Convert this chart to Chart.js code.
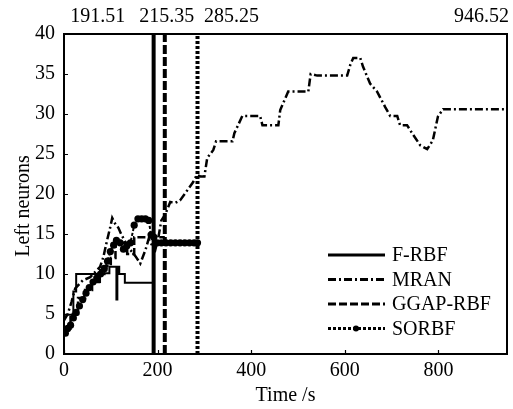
<!DOCTYPE html>
<html lang="en">
<head>
<meta charset="UTF-8">
<title>Left neurons</title>
<script src="https://cdn.jsdelivr.net/npm/chart.js@4"></script>
<style>
  body { margin: 0; background: #fff; }
  canvas { display: block; }
</style>
</head>
<body>
<canvas id="Chart" width="513" height="409"></canvas>
<script>
// neurons left in the network over time, [time (s), neurons]
const fRbf = [
  [0, 4.9], [20, 4.9], [20, 7.8], [26, 7.8], [26, 10], [70, 10], [70, 9], [77, 9],
  [77, 10.5], [86, 10.5], [86, 10.1], [97, 10.1], [97, 10.9], [112, 10.9], [112, 6.8],
  [114, 6.8], [114, 10.9], [118, 10.9], [118, 10], [130, 10], [130, 8.9], [191.51, 8.9]
];
const mran = [
  [0, 4.2], [8, 5], [16, 6.5], [24, 8.2], [40, 9.2], [56, 9.6], [77, 10.9], [84, 12.1],
  [92, 14.2], [99, 15.9], [103, 17.0], [110, 16.2], [116, 15.8], [122, 15.0], [132, 13.9],
  [142, 13.0], [153, 12.2], [163, 11.3], [174, 13.0], [181, 14.4], [186, 13.8], [195, 13.0],
  [202, 14.7], [208, 16.7], [216, 17.4], [227, 19.0], [238, 18.9], [248, 19.2], [259, 20.1],
  [276, 21.5], [284, 22.4], [291, 22.2], [300, 22.2], [306, 24.5], [319, 25.5], [325, 26.6],
  [360, 26.6], [364, 27.6], [381, 29.75], [419, 29.75], [424, 28.6], [458, 28.6], [462, 30.5],
  [479, 32.8], [522, 32.8], [527, 35.0], [541, 34.8], [605, 34.8], [612, 36.2], [618, 37.0],
  [633, 37.0], [639, 35.9], [654, 33.8], [669, 32.8], [686, 30.9], [697, 29.75], [712, 29.75],
  [718, 28.6], [733, 28.6], [746, 27.4], [761, 26.1], [776, 25.6], [788, 26.7], [799, 29.7],
  [810, 30.6], [946.52, 30.6]
];
const ggapRbf = [
  [0, 3.2], [14, 3.2], [14, 5], [30, 5], [30, 7], [45, 7], [45, 8], [60, 8], [60, 9],
  [75, 9], [75, 10], [90, 10], [90, 11], [100, 11], [100, 12], [110, 12], [110, 13.9],
  [135, 13.9], [135, 12.5], [150, 12.5], [150, 14.6], [215.35, 14.6]
];
const sorbf = [
  [3, 2.6], [8, 3.2], [14, 3.6], [20, 4.5], [26, 5.2], [33, 6.0], [40, 6.8], [47, 7.6],
  [54, 8.3], [62, 9.0], [70, 9.5], [78, 10.0], [86, 10.7], [93, 11.6], [99, 12.8],
  [106, 13.6], [112, 14.2], [120, 13.9], [127, 13.1], [134, 13.5], [142, 13.9], [150, 16.1],
  [158, 16.9], [166, 16.9], [174, 16.9], [181, 16.7], [186, 14.9], [192, 14.6], [199, 13.9],
  [208, 13.9], [218, 13.9], [228, 13.9], [238, 13.9], [248, 13.9], [258, 13.9], [268, 13.9],
  [278, 13.9], [285.25, 13.9]
];
// time each run finished (s)
const endTimes = [191.51, 215.35, 285.25, 946.52];
const xTicks = [0, 200, 400, 600, 800];
const yTicks = [0, 5, 10, 15, 20, 25, 30, 35, 40];

const FONT = 'Liberation Serif, Times New Roman, serif';
const FSIZE = 20;
const toXY = arr => arr.map(([x, y]) => ({ x, y }));
const endLine = t => [{ x: t, y: yTicks[0] }, { x: t, y: yTicks[yTicks.length - 1] }];

const series = [
  { label: 'F-RBF', data: toXY(fRbf), borderWidth: 2, borderDash: [] },
  { label: 'MRAN', data: toXY(mran), borderWidth: 2.5, borderDash: [8, 3, 2, 3] },
  { label: 'GGAP-RBF', data: toXY(ggapRbf), borderWidth: 2.5, borderDash: [8, 3] },
  { label: 'SORBF', data: toXY(sorbf), borderWidth: 2, borderDash: [3, 2], pointRadius: 3.6 }
];
const datasets = series.map(s => Object.assign({
  borderColor: '#000', backgroundColor: '#000', pointRadius: 0,
  pointBorderWidth: 0, fill: false, tension: 0
}, s));
// vertical lines at the finishing times
[[], [9, 3], [3, 2]].forEach((dash, i) => {
  datasets.push({
    label: 'end', data: endLine(endTimes[i]), borderColor: '#000', borderWidth: 4,
    borderDash: dash, pointRadius: 0, fill: false
  });
});

const framePlugin = {
  id: 'frame',
  afterDatasetsDraw(chart) {
    const { ctx, chartArea: a, scales: { x, y } } = chart;
    ctx.save();
    ctx.strokeStyle = '#000';
    ctx.lineWidth = 2;
    ctx.strokeRect(a.left, a.top, a.right - a.left, a.bottom - a.top);
    ctx.lineWidth = 1.2;
    ctx.beginPath();
    xTicks.forEach(v => {
      const px = Math.round(x.getPixelForValue(v)) + 0.5;
      ctx.moveTo(px, a.bottom); ctx.lineTo(px, a.bottom - 4);
    });
    yTicks.forEach(v => {
      const py = Math.round(y.getPixelForValue(v)) + 0.5;
      ctx.moveTo(a.left, py); ctx.lineTo(a.left + 4, py);
    });
    ctx.stroke();

    ctx.fillStyle = '#000';
    ctx.font = FSIZE + 'px ' + FONT;

    // y axis title
    ctx.save();
    ctx.translate(24, 206);
    ctx.rotate(-Math.PI / 2);
    ctx.textAlign = 'center';
    ctx.textBaseline = 'middle';
    ctx.fillText('Left neurons', 0, 0);
    ctx.restore();

    // finishing times above the plot
    ctx.textBaseline = 'alphabetic';
    const shift = [-56, 2, 34];
    endTimes.forEach((t, i) => {
      const txt = t.toFixed(2);
      if (i < 3) {
        ctx.textAlign = 'center';
        ctx.fillText(txt, x.getPixelForValue(t) + shift[i], 22);
      } else {
        ctx.textAlign = 'right';
        ctx.fillText(txt, a.right + 2, 22);
      }
    });

    // legend
    const lx = a.right - 179, ly = a.bottom - 99;
    ctx.textAlign = 'left';
    ctx.textBaseline = 'middle';
    series.forEach((s, i) => {
      const ds = chart.data.datasets[i];
      const yy = ly + i * 24.5;
      ctx.lineWidth = 3;
      ctx.setLineDash(ds.borderDash);
      ctx.beginPath();
      ctx.moveTo(lx, yy); ctx.lineTo(lx + 57, yy);
      ctx.stroke();
      ctx.setLineDash([]);
      if (ds.pointRadius) {
        ctx.beginPath();
        ctx.arc(lx + 28, yy, 3, 0, Math.PI * 2);
        ctx.fill();
      }
      ctx.fillText(ds.label, lx + 64, yy + 1);
    });
    ctx.restore();
  }
};

new Chart(document.getElementById('Chart'), {
  type: 'line',
  data: { datasets },
  options: {
    responsive: false,
    animation: false,
    layout: { padding: { top: 34, right: 6, bottom: 0, left: 0 } },
    plugins: { legend: { display: false }, tooltip: { enabled: false } },
    scales: {
      x: {
        type: 'linear', min: 0, max: endTimes[3],
        afterBuildTicks: s => { s.ticks = xTicks.map(v => ({ value: v })); },
        afterFit: s => { s.height = 55; },
        grid: { display: false, drawTicks: false },
        border: { display: false },
        ticks: { color: '#000', font: { family: FONT, size: FSIZE }, padding: 5, maxRotation: 0 },
        title: { display: true, text: 'Time /s', color: '#000', font: { family: FONT, size: FSIZE }, padding: { top: 0, bottom: 1 } }
      },
      y: {
        min: 0, max: 40,
        afterBuildTicks: s => { s.ticks = yTicks.map(v => ({ value: v })); },
        afterFit: s => { s.width = 64; },
        grid: { display: false, drawTicks: false },
        border: { display: false },
        ticks: { color: '#000', font: { family: FONT, size: FSIZE }, padding: 9 }
      }
    }
  },
  plugins: [framePlugin]
});
</script>
</body>
</html>
